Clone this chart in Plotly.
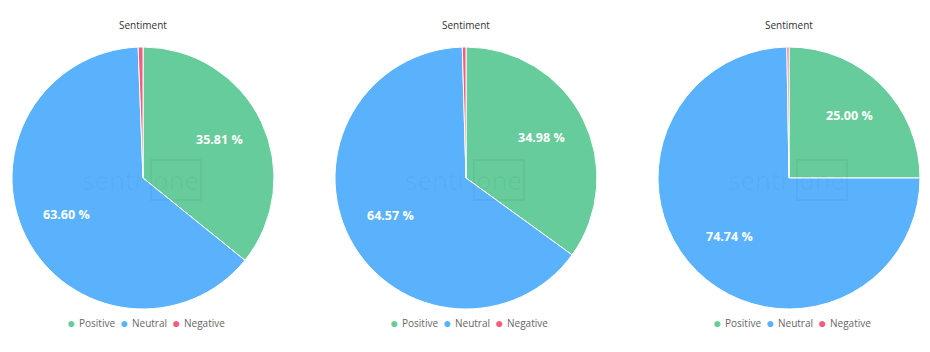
import math
import plotly.graph_objects as go

labels = ["Positive", "Neutral", "Negative"]
colors = ["#66cc9b", "#5ab2fc", "#f45b7e"]
pie1 = [35.81, 63.60, 0.59]
pie2 = [34.98, 64.57, 0.45]
pie3 = [25.00, 74.74, 0.26]
title = "Sentiment"

W, H = 930, 352
centers_px = [143, 466, 789]
cy_px = 178
R = 131
leg_offsets = [-72, -19, 33]

fig = go.Figure()
annotations = []


def ann(x_px, y_px, text, size, color, **kw):
    d = dict(x=x_px / W, y=1 - y_px / H, xref="paper", yref="paper", text=text,
             showarrow=False, xanchor=kw.pop("xanchor", "center"), yanchor="middle",
             font=dict(family="Open Sans", size=size, color=color))
    d.update(kw)
    annotations.append(d)


for i, (vals, cx) in enumerate(zip([pie1, pie2, pie3], centers_px)):
    fig.add_trace(go.Pie(
        labels=labels, values=vals, sort=False, direction="clockwise",
        rotation=0, marker=dict(colors=colors, line=dict(color="white", width=1)),
        textinfo="none", hoverinfo="label+percent", showlegend=False,
        domain=dict(x=[(cx - R) / W, (cx + R) / W],
                    y=[1 - (cy_px + R) / H, 1 - (cy_px - R) / H]),
    ))
    # data labels placed along each slice's mid-angle
    total = sum(vals)
    cum = 0
    for v in vals:
        mid = (cum + v / 2) / total * 2 * math.pi
        cum += v
        if v / total < 0.05:
            continue
        r = R * 0.65
        ann(cx + r * math.sin(mid), cy_px - r * math.cos(mid) - 2,
            "<b>%.2f %%</b>" % v, 12.5, "white")
    # title
    ann(cx, 25, title, 10, "#333333")
    # watermark
    wm = "rgba(0,0,0,0.035)"
    ann(cx - 32, cy_px + 2, "senti", 26, wm)
    ann(cx + 33, cy_px + 2, "one", 26, wm, bordercolor=wm, borderwidth=2, borderpad=1)
    # legend (circle symbol + label)
    for lab, col, off in zip(labels, colors, leg_offsets):
        ann(cx + off, 322, "●", 14, col)
        ann(cx + off + 6, 323, lab, 10, "#666666", xanchor="left")

fig.update_layout(
    width=W, height=H, margin=dict(l=0, r=0, t=0, b=0),
    paper_bgcolor="white", plot_bgcolor="white",
    showlegend=False,
    annotations=annotations,
)
fig.write_html("out.html")
